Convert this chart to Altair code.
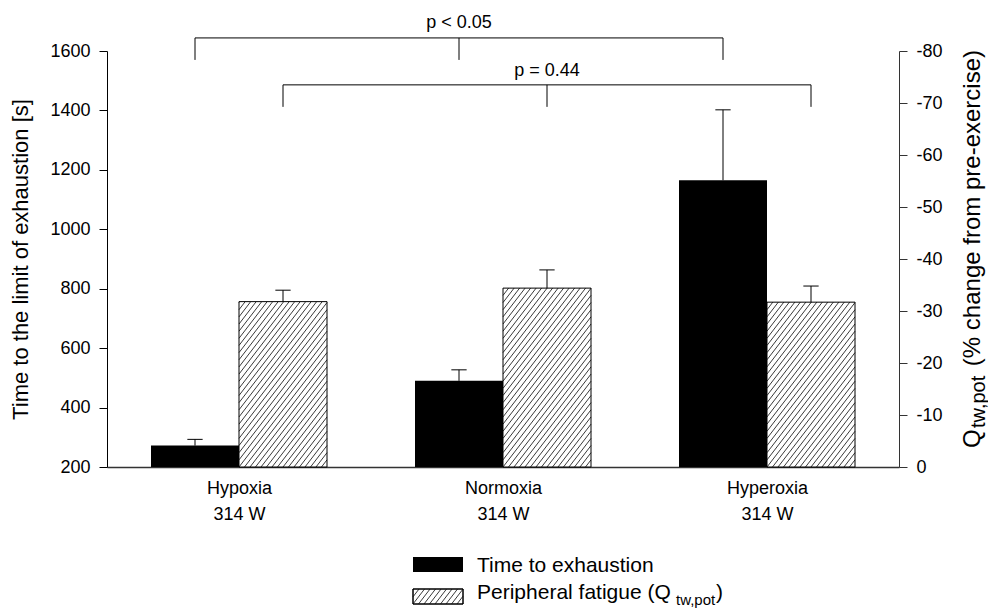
import json
import altair as alt
import numpy as np
import pandas as pd

# ---------------- values ----------------
conditions = ["Hypoxia", "Normoxia", "Hyperoxia"]
workload = ["314 W", "314 W", "314 W"]
time_to_exhaustion = [272, 490, 1165]          # s (left axis)
time_to_exhaustion_err = [21, 37, 237]
peripheral_fatigue = [-31.8, -34.4, -31.7]      # % change (right axis)
peripheral_fatigue_err = [2.2, 3.5, 3.1]
left_ticks = [200, 400, 600, 800, 1000, 1200, 1400, 1600]
right_ticks = [0, -10, -20, -30, -40, -50, -60, -70, -80]
comparison_labels = ["p < 0.05", "p = 0.44"]
left_title = "Time to the limit of exhaustion [s]"
right_title_parts = ["Q", "tw,pot", "(% change from pre-exercise)"]
legend_parts = ["Time to exhaustion", "Peripheral fatigue (Q", "tw,pot", ")"]

# ---------------- layout / style constants ----------------
FONT = "Liberation Sans"
PLOT_W, PLOT_H = 792, 416
PAD = {"left": 107, "top": 51, "right": 89, "bottom": 141}
X_DOM = [-0.5, 2.5]
L_DOM = [200, 1600]
R_DOM = [0, -80]
BAR = 1 / 3          # bar width in group units
CAP = 0.029          # half cap width in group units
XPX = PLOT_W / (X_DOM[1] - X_DOM[0])
RPX = PLOT_H / abs(R_DOM[1] - R_DOM[0])
HATCH_SPACING = 5.5
HATCH_SLOPE = 1.3
# bracket levels in left-axis units
BRACKET_TOP = [1644, 1486]
BRACKET_BOT = [1570, 1412]
BRACKET_LABEL = [1677, 1516]


def hatch(width, height, spacing=HATCH_SPACING, slope=HATCH_SLOPE):
    segs = []
    c = np.ceil((-height / slope) / spacing) * spacing
    while c < width:
        h0 = max(0.0, -c * slope)
        h1 = min(height, (width - c) * slope)
        if h1 > h0 + 1e-6:
            segs.append((c + h0 / slope, h0, c + h1 / slope, h1))
        c += spacing
    return segs


idx = list(range(len(conditions)))
time_df = pd.DataFrame({"cond": conditions, "i": idx, "val": time_to_exhaustion,
                        "err": time_to_exhaustion_err})
time_df["x0"] = time_df["i"] - BAR
time_df["x1"] = time_df["i"]
time_df["xc"] = time_df["i"] - BAR / 2
time_df["base"] = L_DOM[0]
time_df["top"] = time_df["val"] + time_df["err"]
time_df["cl"] = time_df["xc"] - CAP
time_df["cr"] = time_df["xc"] + CAP

fat_df = pd.DataFrame({"cond": conditions, "i": idx, "val": peripheral_fatigue,
                       "err": peripheral_fatigue_err})
fat_df["x0"] = fat_df["i"]
fat_df["x1"] = fat_df["i"] + BAR
fat_df["xc"] = fat_df["i"] + BAR / 2
fat_df["base"] = 0
fat_df["top"] = fat_df["val"] - fat_df["err"]
fat_df["cl"] = fat_df["xc"] - CAP
fat_df["cr"] = fat_df["xc"] + CAP

# hatch lines inside the fatigue bars (data units)
rows = []
for _, r in fat_df.iterrows():
    for (a, h0, b, h1) in hatch(BAR * XPX, abs(r["val"]) * RPX):
        rows.append({"x": r["x0"] + a / XPX, "y": -h0 / RPX,
                     "x2": r["x0"] + b / XPX, "y2": -h1 / RPX})
hatch_df = pd.DataFrame(rows)

# significance brackets
br_left = [time_df["xc"][0], fat_df["xc"][0]]
br_right = [time_df["xc"][2], fat_df["xc"][2]]
br_mid = [(a + b) / 2 for a, b in zip(br_left, br_right)]
br_h = pd.DataFrame({"xl": br_left, "xr": br_right, "y": BRACKET_TOP})
drops = []
for k in range(2):
    for xv in (br_left[k], br_mid[k], br_right[k]):
        drops.append({"x": xv, "y": BRACKET_TOP[k], "y2": BRACKET_BOT[k]})
br_v = pd.DataFrame(drops)
br_t = pd.DataFrame({"x": br_mid, "y": BRACKET_LABEL, "text": comparison_labels})

# ---------------- scales & axes ----------------
x_labels = [[c, w] for c, w in zip(conditions, workload)]
x_scale = alt.Scale(domain=X_DOM, nice=False, zero=False)
x_axis = alt.Axis(values=idx, labelExpr=json.dumps(x_labels) + "[datum.value]",
                  ticks=False, domainColor="#333333", domainWidth=1.5,
                  labelFontSize=18, labelColor="black", labelFont=FONT,
                  labelPadding=12, labelBaseline="top", labelLineHeight=26,
                  labelFlush=False, labelOverlap=False, grid=False, title=None)

left_scale = alt.Scale(domain=L_DOM, nice=False, zero=False)
left_axis = alt.Axis(values=left_ticks, orient="left", grid=False,
                     labelExpr="'' + datum.value",
                     title=left_title, titleFont=FONT, titleFontSize=22,
                     titleFontWeight="normal", titleColor="black",
                     titleAngle=270, titleX=-80, titleY=PLOT_H / 2,
                     titleAlign="center", titleBaseline="alphabetic",
                     labelFont=FONT, labelFontSize=18, labelColor="black",
                     tickSize=8, tickColor="black", domainColor="black",
                     labelPadding=9)

right_scale = alt.Scale(domain=R_DOM, nice=False, zero=False)
right_axis = alt.Axis(values=right_ticks, orient="right", grid=False, title=None,
                      labelExpr="'' + datum.value",
                      labelFont=FONT, labelFontSize=18, labelColor="black",
                      tickSize=8, tickColor="#333333", domainColor="#333333",
                      labelPadding=9)


def X(f):
    return alt.X(f, type="quantitative", scale=x_scale, axis=x_axis)


def YL(f):
    return alt.Y(f, type="quantitative", scale=left_scale, axis=left_axis)


def YR(f):
    return alt.Y(f, type="quantitative", scale=right_scale, axis=right_axis)


# ---------------- left (time) layer ----------------
tb = alt.Chart(time_df)
black_bars = tb.mark_rect(color="black").encode(x=X("x0"), x2="x1", y=YL("val"), y2="base")
black_err = tb.mark_rule(color="black", strokeWidth=1).encode(x=X("xc"), y=YL("val"), y2="top")
black_cap = tb.mark_rule(color="black", strokeWidth=1).encode(x=X("cl"), x2="cr", y=YL("top"))
br_h_l = alt.Chart(br_h).mark_rule(color="black", strokeWidth=1).encode(x=X("xl"), x2="xr", y=YL("y"))
br_v_l = alt.Chart(br_v).mark_rule(color="black", strokeWidth=1).encode(x=X("x"), y=YL("y"), y2="y2")
br_t_l = alt.Chart(br_t).mark_text(font=FONT, fontSize=18, color="black", baseline="alphabetic",
                                   align="center").encode(x=X("x"), y=YL("y"), text="text:N")
left_layer = alt.layer(black_bars, black_err, black_cap, br_h_l, br_v_l, br_t_l)

# ---------------- right (fatigue) layer ----------------
fb = alt.Chart(fat_df)
hat_fill = fb.mark_rect(color="white").encode(x=X("x0"), x2="x1", y=YR("val"), y2="base")
hat_lines = alt.Chart(hatch_df).mark_rule(color="#222222", strokeWidth=0.9).encode(
    x=X("x"), x2="x2", y=YR("y"), y2="y2")
hat_outline = fb.mark_rect(fill=None, stroke="black", strokeWidth=1, fillOpacity=0).encode(
    x=X("x0"), x2="x1", y=YR("val"), y2="base")
fat_err = fb.mark_rule(color="black", strokeWidth=1).encode(x=X("xc"), y=YR("val"), y2="top")
fat_cap = fb.mark_rule(color="black", strokeWidth=1).encode(x=X("cl"), x2="cr", y=YR("top"))
right_layer = alt.layer(hat_fill, hat_lines, hat_outline, fat_err, fat_cap)

# ---------------- annotations (right-axis title, legend) ----------------
one = alt.Chart(pd.DataFrame({"k": [0]}))


def txt(s, x, y, size, align="left", angle=0):
    kw = dict(font=FONT, fontSize=size, color="black", align=align, baseline="alphabetic")
    if angle:
        kw["angle"] = angle
    return one.mark_text(**kw).encode(x=alt.value(x - PAD["left"]), y=alt.value(y - PAD["top"]),
                                      text=alt.value(s))


rt = [
    txt(right_title_parts[0], 980, 448, 24, "left", 270),
    txt(right_title_parts[1], 985, 428, 20, "left", 270),
    txt(right_title_parts[2], 980, 50, 24, "right", 270),
]

SW_X0, SW_X1 = 413, 463
SW1 = (557, 572)
SW2 = (589, 604)
sw_black = one.mark_rect(color="black").encode(
    x=alt.value(SW_X0 - PAD["left"]), x2=alt.value(SW_X1 - PAD["left"]),
    y=alt.value(SW1[0] - PAD["top"]), y2=alt.value(SW1[1] - PAD["top"]))
sw_white = one.mark_rect(fill="white", stroke="black", strokeWidth=1).encode(
    x=alt.value(SW_X0 - PAD["left"]), x2=alt.value(SW_X1 - PAD["left"]),
    y=alt.value(SW2[0] - PAD["top"]), y2=alt.value(SW2[1] - PAD["top"]))
lrows = []
for (a, h0, b, h1) in hatch(SW_X1 - SW_X0, SW2[1] - SW2[0]):
    lrows.append({"x": SW_X0 - PAD["left"] + a, "y": SW2[1] - PAD["top"] - h0,
                  "x2": SW_X0 - PAD["left"] + b, "y2": SW2[1] - PAD["top"] - h1})
sw_hatch = alt.Chart(pd.DataFrame(lrows)).mark_rule(color="#222222", strokeWidth=0.9).encode(
    x=alt.X("x:Q", scale=None), x2="x2", y=alt.Y("y:Q", scale=None), y2="y2")
sw_outline = one.mark_rect(fill=None, fillOpacity=0, stroke="black", strokeWidth=1).encode(
    x=alt.value(SW_X0 - PAD["left"]), x2=alt.value(SW_X1 - PAD["left"]),
    y=alt.value(SW2[0] - PAD["top"]), y2=alt.value(SW2[1] - PAD["top"]))

legend = [
    sw_black, sw_white, sw_hatch, sw_outline,
    txt(legend_parts[0], 477, 572, 21),
    txt(legend_parts[1], 477, 599, 21),
    txt(legend_parts[2], 676, 605, 15),
    txt(legend_parts[3], 716, 599, 21),
]

annot = alt.layer(*rt, *legend)

chart = alt.layer(left_layer, right_layer, annot).resolve_scale(y="independent").properties(
    width=PLOT_W, height=PLOT_H, padding=PAD,
    autosize=alt.AutoSizeParams(type="none"), background="white",
).configure_view(stroke=None)

chart.save("out.html", embed_options={"renderer": "svg", "actions": False})
